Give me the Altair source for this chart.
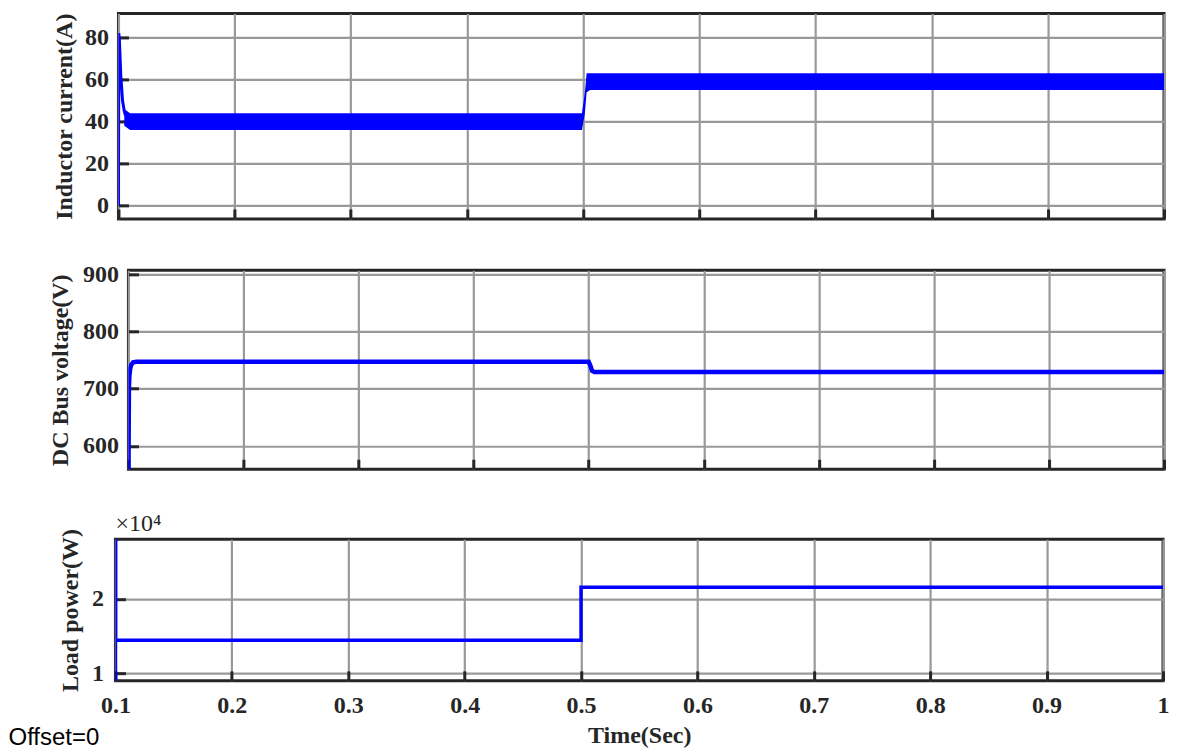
import altair as alt
import pandas as pd

# ---------------- data ----------------
x_ticks = [0.1, 0.2, 0.3, 0.4, 0.5, 0.6, 0.7, 0.8, 0.9, 1.0]

# Panel 1: inductor current (A) - start-up transient
cur_t = [0.1, 0.1003, 0.1008, 0.102, 0.1035, 0.105, 0.106]
cur_v = [0, 82, 79, 62, 50, 45, 43]
# ripple band envelope (upper / lower) of the inductor current
band_t = [0.105, 0.11, 0.3, 0.499, 0.5015, 0.503, 0.506, 0.7, 1.0]
band_hi = [46, 44, 44, 44, 54, 63, 63, 63, 63]
band_lo = [38, 36, 36, 36, 44, 54, 55, 55, 55]
cur_ticks = [0, 20, 40, 60, 80]

# Panel 2: DC bus voltage (V)
volt_t = [0.1, 0.1004, 0.1008, 0.1015, 0.1025, 0.104, 0.107, 0.5, 0.5015, 0.503, 0.505, 1.0]
volt_v = [540, 700, 722, 735, 742, 746, 747, 747, 740, 731, 729, 729]
volt_ticks = [600, 700, 800, 900]

# Panel 3: load power (W)
pow_t = [0.1, 0.1, 0.1002, 0.1002, 0.5, 0.5, 1.0]
pow_v = [5000, 30000, 30000, 14450, 14450, 21550, 21550]
pow_ticks = [10000, 20000]

# ---------------- styling ----------------
BLUE = "#0000ff"
FRAME = "#262626"
GRID = "#999999"
SERIF = "Liberation Serif"
ANCHOR = -107

xs = alt.Scale(domain=[0.1, 1.0], nice=False, zero=False)
one_row = pd.DataFrame({"k": [0]})


def x_axis(labels=False, title=None):
    kw = dict(
        orient="bottom", values=x_ticks, format="~g", labels=labels,
        grid=True, gridColor=GRID, gridWidth=2.2, gridOpacity=1,
        domain=False, ticks=True, tickSize=10, tickWidth=3, tickColor=FRAME,
        offset=-10, labelPadding=13, labelFont=SERIF, labelFontSize=24,
        labelFontWeight="bold", labelColor=FRAME, labelFlush=False, labelOverlap=False,
        titleFont=SERIF, titleFontSize=24, titleFontWeight="bold", titleColor=FRAME,
        titlePadding=6,
    )
    return alt.Axis(title=title, **kw)


def y_axis(values, title, tp=0, lp=10, label_expr=None):
    kw = dict(
        orient="left", values=values, labels=True,
        grid=True, gridColor=GRID, gridWidth=2.2, gridOpacity=1,
        domain=False, ticks=True, tickSize=10, tickWidth=3, tickColor=FRAME,
        offset=-10, labelPadding=lp, labelFont=SERIF, labelFontSize=24,
        labelFontWeight="bold", labelColor=FRAME, labelFlush=False, labelOverlap=False,
        titleFont=SERIF, titleFontSize=24, titleFontWeight="bold", titleColor=FRAME,
        titlePadding=tp,
    )
    if label_expr:
        kw["labelExpr"] = label_expr
    return alt.Axis(title=title, **kw)


def anchor(height, top=None):
    # invisible layout anchor that fixes the panel's left (and optionally top) bound
    layers = [alt.Chart(one_row).mark_text(text=".", opacity=0, align="left").encode(
        x=alt.value(ANCHOR), y=alt.value(height / 2))]
    if top is not None:
        layers.append(alt.Chart(one_row).mark_text(
            text=".", opacity=0, align="left", baseline="top").encode(
            x=alt.value(0), y=alt.value(top)))
    return layers


def spacer(w):
    # empty, frameless cell that shifts a panel to the right
    return alt.Chart(one_row).mark_point(opacity=0).encode(
        x=alt.value(0), y=alt.value(0)
    ).properties(width=w, height=1, view=alt.ViewBackground(stroke="transparent"))


# ---------------- panel 1 ----------------
H1, W1 = 205.6, 1046
df_cur = pd.DataFrame({"t": cur_t, "v": cur_v})
df_band = pd.DataFrame({"t": band_t, "hi": band_hi, "lo": band_lo})
ys1 = alt.Scale(domain=[-6.3, 91.4], nice=False, zero=False)
ax1 = y_axis(cur_ticks, "Inductor current(A)", tp=7.5)

p1_band = alt.Chart(df_band).mark_area(color=BLUE, clip=True).encode(
    x=alt.X("t:Q", scale=xs, axis=x_axis()),
    y=alt.Y("hi:Q", scale=ys1, axis=ax1),
    y2="lo:Q",
)
p1_line = alt.Chart(df_cur).mark_line(color=BLUE, strokeWidth=3, clip=True).encode(
    x=alt.X("t:Q", scale=xs, axis=x_axis()),
    y=alt.Y("v:Q", scale=ys1, axis=ax1),
)
panel1 = alt.layer(p1_band, p1_line, *anchor(H1)).properties(width=W1, height=H1)

# ---------------- panel 2 ----------------
H2, W2 = 199, 1036
df_volt = pd.DataFrame({"t": volt_t, "v": volt_v})
ys2 = alt.Scale(domain=[559, 907], nice=False, zero=False)
p2_line = alt.Chart(df_volt).mark_line(color=BLUE, strokeWidth=4.5, clip=True).encode(
    x=alt.X("t:Q", scale=xs, axis=x_axis()),
    y=alt.Y("v:Q", scale=ys2, axis=y_axis(volt_ticks, "DC Bus voltage(V)", tp=9.5)),
)
panel2 = alt.layer(p2_line, *anchor(H2, top=-8)).properties(width=W2, height=H2)

# ---------------- panel 3 ----------------
H3, W3 = 141.7, 1048
df_pow = pd.DataFrame({"t": pow_t, "p": pow_v})
ys3 = alt.Scale(domain=[9030, 27960], nice=False, zero=False)
p3_line = alt.Chart(df_pow).mark_line(color=BLUE, strokeWidth=3.5, clip=True).encode(
    x=alt.X("t:Q", scale=xs, axis=x_axis(labels=True, title="Time(Sec)")),
    y=alt.Y("p:Q", scale=ys3, axis=y_axis(pow_ticks, "Load power(W)", tp=8.5, lp=12,
                                           label_expr="format(datum.value / 10000, '~g')")),
)
p3_exp = alt.Chart(one_row).mark_text(
    text="×10⁴", align="left", baseline="alphabetic", font=SERIF, fontSize=24,
    color=FRAME,
).encode(x=alt.value(0), y=alt.value(-8.5))
p3_offset = alt.Chart(one_row).mark_text(
    text="Offset=0", align="left", baseline="alphabetic", font="Liberation Sans",
    fontSize=24, color="black",
).encode(x=alt.value(ANCHOR), y=alt.value(206))
panel3 = alt.layer(p3_line, p3_exp, p3_offset).properties(width=W3, height=H3)

chart = alt.vconcat(
    alt.hconcat(spacer(6), panel1, spacing=0),
    alt.hconcat(spacer(16), panel2, spacing=0),
    alt.hconcat(spacer(1), panel3, spacing=0),
    spacing=38,
).properties(
    padding={"left": -11.5, "top": 0.3, "right": 0, "bottom": -3},
).configure_view(stroke=FRAME, strokeWidth=3)

chart.save("out.html", embed_options={"renderer": "svg", "actions": False})
